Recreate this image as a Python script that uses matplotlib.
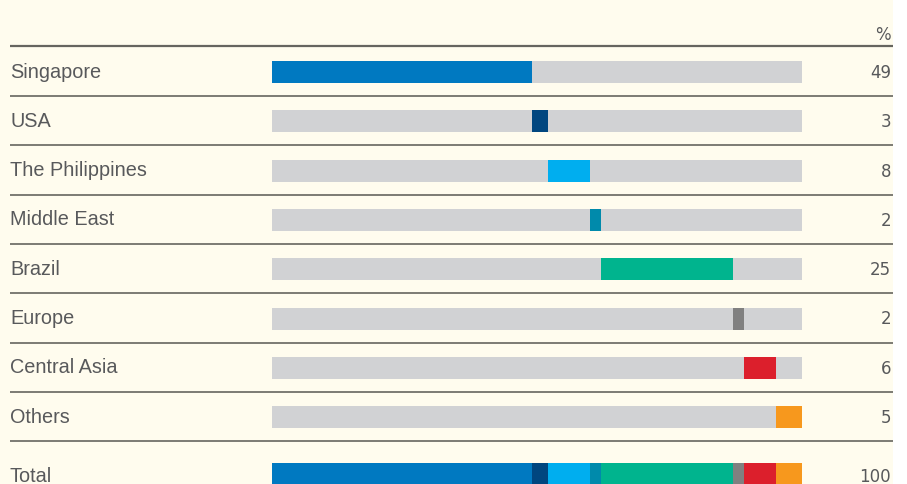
import matplotlib
matplotlib.use("Agg")
import matplotlib.pyplot as plt
from matplotlib.patches import Rectangle

regions = ["Singapore", "USA", "The Philippines", "Middle East", "Brazil",
           "Europe", "Central Asia", "Others"]
shares = [49, 3, 8, 2, 25, 2, 6, 5]
total_label = "Total"
total_value = 100
colors = ["#0079c1", "#00467f", "#00aeef", "#008aab", "#00b48e",
          "#808080", "#dc1f2c", "#f7981d"]

W, H = 907, 484
BG = "#fffcee"
TXT = "#58595b"
GREY = "#d1d2d4"
LINE = "#66655f"

fig = plt.figure(figsize=(W / 100, H / 100), dpi=100, facecolor="white")

# overlay axes in pixel coordinates for background, rules and labels
axo = fig.add_axes([0, 0, 1, 1])
axo.set_xlim(0, W)
axo.set_ylim(H, 0)
axo.axis("off")
axo.add_patch(Rectangle((0, 0), 893, H, facecolor=BG, edgecolor="none", zorder=0))

row0, step = 72, 49.3
ys = [row0 + i * step for i in range(len(regions))]
y_total = 474

# rules
rule_ys = [46] + [y + step / 2 - 0.5 for y in ys]
for i, ry in enumerate(rule_ys):
    lw = 1.6 if i == 0 else 1.2
    axo.plot([10, 893], [ry, ry], color=LINE, lw=lw, solid_capstyle="butt", zorder=1)

lab_font = dict(family=["Liberation Sans", "DejaVu Sans"], size=14.3, color=TXT)
num_font = dict(family=["DejaVu Sans"], size=12, color=TXT)

axo.text(891, 40, "%", ha="right", va="baseline", **num_font)
for name, val, y in zip(regions, shares, ys):
    axo.text(10, y + 5.5, name, ha="left", va="baseline", **lab_font)
    axo.text(891, y + 6, str(val), ha="right", va="baseline", **num_font)
axo.text(10, 481.5, total_label, ha="left", va="baseline", **lab_font)
axo.text(891, 481.5, str(total_value), ha="right", va="baseline", **num_font)

# bar axes: x in percent, y in pixel rows
ax = fig.add_axes([272 / W, 0, 530 / W, 1])
ax.set_xlim(0, 100)
ax.set_ylim(H, 0)
ax.axis("off")
ax.patch.set_alpha(0)

bh = 22
left = 0
for name, val, col, y in zip(regions, shares, colors, ys):
    ax.barh(y, 100, height=bh, left=0, color=GREY, edgecolor="none", zorder=2)
    ax.barh(y, val, height=bh, left=left, color=col, edgecolor="none", zorder=3)
    ax.barh(y_total, val, height=bh, left=left, color=col, edgecolor="none", zorder=3)
    left += val

fig.savefig("out.png", dpi=100, facecolor="white")
